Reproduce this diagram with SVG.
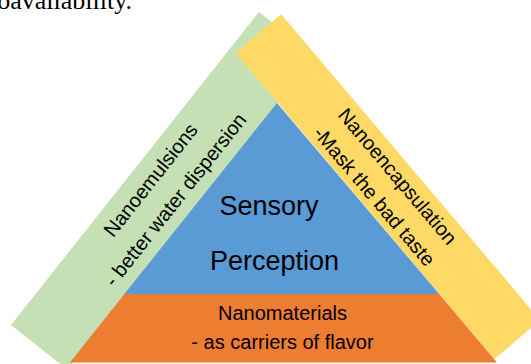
<svg xmlns="http://www.w3.org/2000/svg" width="531" height="364" viewBox="0 0 531 364">
  <style>
    .lbl { font-family: "Liberation Sans", Arial, sans-serif; font-size: 20px; fill: #000; text-anchor: middle; }
    .big { font-family: "Liberation Sans", Arial, sans-serif; font-size: 27px; fill: #000; text-anchor: middle; }
    .cap { font-family: "Liberation Serif", "Times New Roman", serif; font-size: 26px; fill: #000; text-anchor: end; }
  </style>
  <rect width="531" height="364" fill="#ffffff"/>
  <text class="cap" x="132" y="9">oavailability.</text>

  <g id="nanoemulsions">
    <polygon points="259,12 11,325 67.4,369.7 315.4,56.7" fill="#C5E0B4"/>
    <g transform="translate(156,184.3) rotate(-51.6)">
      <text class="lbl" x="0" y="0">Nanoemulsions</text>
      <text class="lbl" x="0" y="31.7">- better water dispersion</text>
    </g>
  </g>

  <g id="nanoencapsulation">
    <polygon points="281.2,14.2 235.5,53 494.4,359 540.1,320.2" fill="#FFD966"/>
    <g transform="translate(392.4,180.9) rotate(49.7)">
      <text class="lbl" x="0" y="0">Nanoencapsulation</text>
      <text class="lbl" x="0" y="30.6">-Mask the bad taste</text>
    </g>
  </g>

  <g id="sensory-perception">
    <polygon points="277,103 124.4,294 439.2,294" fill="#5B9BD5"/>
    <text class="big" x="269" y="215">Sensory</text>
    <text class="big" x="274.5" y="270">Perception</text>
  </g>

  <g id="nanomaterials">
    <polygon points="124.4,294 439.2,294 497,362.5 70,362.5" fill="#ED7D31"/>
    <text class="lbl" x="282.5" y="320">Nanomaterials</text>
    <text class="lbl" x="282.5" y="349">- as carriers of flavor</text>
  </g>
</svg>
